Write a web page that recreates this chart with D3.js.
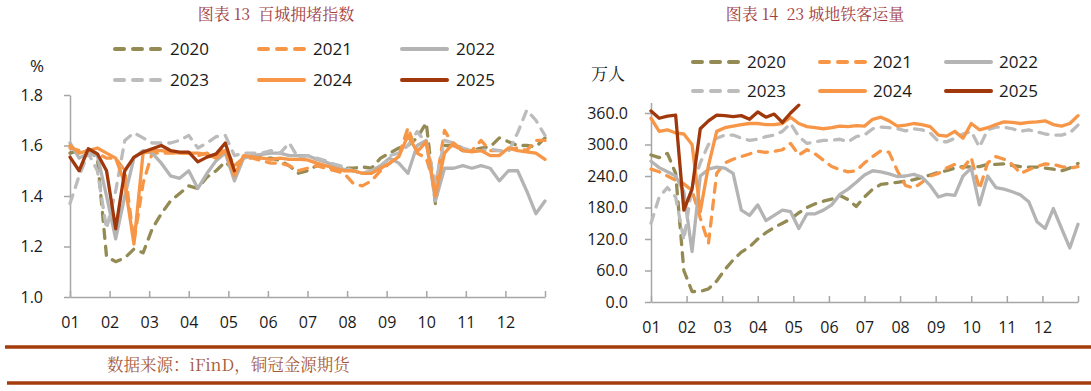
<!DOCTYPE html>
<html lang="zh">
<head>
<meta charset="utf-8">
<title>百城拥堵指数 / 23城地铁客运量</title>
<script src="https://cdn.jsdelivr.net/npm/d3@7"></script>
<style>
  body { margin: 0; background: #fff; }
  svg { display: block; }
  .title { font-family: "Noto Serif CJK SC", "Liberation Serif", "Noto Sans CJK SC", serif; font-size: 16px; fill: #a3403f; text-anchor: middle; white-space: pre; }
  .axis path, .axis line { stroke: #a6a6a6; stroke-width: 1.5; }
  .axis text { font-family: "Open Sans", sans-serif; font-size: 16px; fill: #1a1a1a; }
  .legend text { font-family: "Open Sans", sans-serif; font-size: 17px; fill: #1a1a1a; }
  .unit { font-family: "Open Sans", "Noto Serif CJK SC", "Noto Sans CJK SC", sans-serif; font-size: 17px; fill: #1a1a1a; text-anchor: middle; }
  .series { fill: none; stroke-width: 3.3; stroke-linejoin: round; stroke-linecap: round; }
  .source { font-family: "Noto Serif CJK SC", "Liberation Serif", "Noto Sans CJK SC", serif; font-size: 16.5px; fill: #a65a3a; }
</style>
</head>
<body>
<div id="chart"></div>
<script>

var months = ["01", "02", "03", "04", "05", "06", "07", "08", "09", "10", "11", "12"],
    years = ["2020", "2021", "2022", "2023", "2024", "2025"],
    colors = ["#948a54", "#f79646", "#b4b4b4", "#bcbcbc", "#f79646", "#a0380c"],
    dashed = [true, true, false, true, false, false];

// weekly values, week 0 = start of Jan
var cong2020 = [1.57,1.58,1.58,1.55,1.16,1.14,1.155,1.19,1.175,1.27,
                1.33,1.38,1.41,1.44,1.43,1.475,1.50,1.535,1.50,1.55,
                1.56,1.55,1.55,1.54,1.52,1.49,
                1.50,1.52,1.515,1.51,1.51,1.51,1.515,1.51,1.55,1.57,
                1.59,1.60,1.63,1.69,1.37,1.60,1.60,1.58,1.58,1.59,
                1.595,1.63,1.615,1.60,1.60,1.595,1.63];
var cong2021 = [1.59,1.58,1.58,1.57,1.55,1.55,1.50,1.22,1.45,1.57,
                1.57,1.57,1.57,1.57,1.56,1.57,1.56,1.59,1.52,1.55,
                1.55,1.54,1.53,1.53,1.52,1.50,
                1.51,1.52,1.51,1.50,1.49,1.45,1.44,1.46,1.50,1.53,
                1.56,1.67,1.57,1.55,1.43,1.66,1.60,1.58,1.58,1.62,
                1.58,1.58,1.585,1.59,1.58,1.62,1.62];
var cong2022 = [1.61,1.55,1.57,1.56,1.40,1.23,1.40,1.55,1.58,1.57,
                1.53,1.48,1.47,1.50,1.43,1.49,1.54,1.57,1.46,1.55,
                1.56,1.565,1.57,1.57,1.56,1.56,
                1.56,1.545,1.535,1.52,1.505,1.50,1.49,1.50,1.52,1.55,
                1.53,1.49,1.60,1.62,1.38,1.51,1.51,1.52,1.51,1.52,
                1.51,1.46,1.50,1.50,1.42,1.33,1.38];
var cong2023 = [1.37,1.48,1.57,1.50,1.27,1.42,1.62,1.65,1.63,1.61,
                1.61,1.61,1.62,1.64,1.59,1.61,1.635,1.64,1.56,1.57,
                1.57,1.57,1.58,1.57,1.61,1.55,
                1.56,1.55,1.54,1.525,1.515,1.50,1.49,1.50,1.505,1.56,
                1.57,1.60,1.655,1.61,1.45,1.62,1.61,1.59,1.58,1.58,
                1.585,1.58,1.575,1.65,1.74,1.70,1.64];
var cong2024 = [1.60,1.57,1.58,1.59,1.57,1.55,1.45,1.21,1.57,1.58,
                1.58,1.575,1.57,1.57,1.57,1.565,1.55,1.58,1.48,1.56,
                1.555,1.55,1.545,1.55,1.545,1.545,
                1.543,1.53,1.52,1.51,1.50,1.50,1.49,1.49,1.51,1.53,
                1.556,1.64,1.575,1.615,1.40,1.57,1.61,1.58,1.575,1.58,
                1.56,1.56,1.59,1.58,1.575,1.57,1.545];
var cong2025 = [1.554,1.50,1.587,1.567,1.50,1.27,1.50,1.554,1.574,1.587,
                1.60,1.58,1.574,1.574,1.535,1.554,1.567,1.61,1.50];

var metro2020 = [280,275,283,245,60,20,20,25,40,62,
                 80,95,105,120,132,142,150,158,170,180,
                 187,192,196,203,195,182,
                 200,215,224,226,228,230,233,237,242,247,
                 250,255,258,257,258,262,262,263,260,258,
                 257,257,255,253,250,255,264];
var metro2021 = [253,248,240,232,225,212,160,112,245,265,
                 272,277,282,287,285,287,290,302,280,290,
                 282,270,258,252,248,250,
                 265,277,288,285,250,222,217,228,240,245,
                 255,262,255,275,215,265,277,272,262,245,
                 252,258,263,262,258,255,258];
var metro2022 = [268,256,248,240,210,96,240,253,257,255,
                 245,175,165,185,155,165,175,172,140,168,
                 168,175,185,205,215,228,
                 242,250,248,244,239,240,243,238,222,200,
                 205,203,240,255,185,240,218,215,210,204,
                 191,153,140,178,140,103,148];
var metro2023 = [150,200,218,200,118,220,265,300,312,318,
                 318,312,308,310,315,318,325,340,315,302,
                 305,308,308,310,305,315,
                 318,330,333,332,330,326,330,328,322,306,
                 305,312,320,325,295,328,333,333,330,325,
                 328,324,320,318,318,322,337];
var metro2024 = [350,325,328,322,320,300,172,260,325,332,
                 335,338,340,340,338,338,340,352,340,334,
                 332,330,332,335,334,336,
                 335,348,352,345,335,337,340,338,334,318,
                 316,325,312,340,328,332,338,343,342,340,
                 342,343,345,338,335,340,355];
var metro2025 = [364,350,354,356,175,215,330,345,356,355,
                 353,355,348,362,352,358,342,360,375];

var congestion = [cong2020, cong2021, cong2022, cong2023, cong2024, cong2025],
    metro = [metro2020, metro2021, metro2022, metro2023, metro2024, metro2025];

var svg = d3.select("#chart").append("svg")
            .attr("width", 1091)
            .attr("height", 391);

function drawChart(cfg) {
    var x = d3.scaleLinear().domain([0, 52]).range(cfg.xRange);
    var y = d3.scaleLinear().domain(cfg.yDomain).range(cfg.yRange);

    var xAxis = d3.axisBottom(x)
                  .tickValues(d3.range(13).map(function(m) { return m * 52 / 12; }))
                  .tickFormat(function(d, i) { return i < 12 ? months[i] : ""; })
                  .tickSizeInner(-6)
                  .tickSizeOuter(0)
                  .tickPadding(20);

    var yAxis = d3.axisLeft(y)
                  .tickValues(cfg.yTicks)
                  .tickFormat(d3.format(".1f"))
                  .tickSizeInner(6)
                  .tickSizeOuter(0)
                  .tickPadding(cfg.yPad);

    svg.append("g")
       .attr("class", "axis")
       .attr("transform", "translate(0," + cfg.yRange[0] + ")")
       .call(xAxis);

    svg.append("g")
       .attr("class", "axis")
       .attr("transform", "translate(" + cfg.xRange[0] + ",0)")
       .call(yAxis);

    var line = d3.line()
                 .x(function(d, i) { return x(i); })
                 .y(function(d) { return y(d); });

    cfg.data.forEach(function(vals, k) {
        svg.append("path")
           .datum(vals)
           .attr("class", "series")
           .attr("d", line)
           .attr("stroke", colors[k])
           .attr("stroke-dasharray", dashed[k] ? "9,8" : null);
    });

    svg.append("text")
       .attr("class", "title")
       .attr("x", cfg.titleX)
       .attr("y", 20)
       .text(cfg.title);

    svg.append("text")
       .attr("class", "unit")
       .attr("x", cfg.unitPos[0])
       .attr("y", cfg.unitPos[1])
       .text(cfg.unit);

    // legend: 3 columns x 2 rows
    var lg = svg.append("g").attr("class", "legend");
    years.forEach(function(yr, k) {
        var col = k % 3, row = Math.floor(k / 3);
        var ly = cfg.legendRows[row], lx = cfg.legendCols[col];
        lg.append("line")
          .attr("x1", lx + 2).attr("x2", lx + 47)
          .attr("y1", ly).attr("y2", ly)
          .attr("stroke", colors[k])
          .attr("stroke-width", 4)
          .attr("stroke-linecap", "round")
          .attr("stroke-dasharray", dashed[k] ? "9,9" : null);
        lg.append("text")
          .attr("x", cfg.legendText[col])
          .attr("y", ly)
          .attr("dy", "0.36em")
          .text(yr);
    });
}

drawChart({
    data: congestion,
    xRange: [70, 545],
    yRange: [297, 95],
    yDomain: [1.0, 1.8],
    yTicks: [1.0, 1.2, 1.4, 1.6, 1.8],
    yPad: 21,
    title: "图表 13  百城拥堵指数",
    titleX: 276,
    unit: "%",
    unitPos: [37, 72],
    legendRows: [49, 80],
    legendCols: [113, 257, 400],
    legendText: [170, 313, 456]
});

drawChart({
    data: metro,
    xRange: [651, 1078],
    yRange: [302, 102.5],
    yDomain: [0, 380],
    yTicks: [0, 60, 120, 180, 240, 300, 360],
    yPad: 17,
    title: "图表 14  23 城地铁客运量",
    titleX: 815,
    unit: "万人",
    unitPos: [608, 80],
    legendRows: [62, 91],
    legendCols: [691, 818, 944],
    legendText: [747, 873, 999]
});

// footer rules and source
svg.append("line")
   .attr("x1", 5).attr("x2", 1091)
   .attr("y1", 347).attr("y2", 347)
   .attr("stroke", "#a33b0a").attr("stroke-width", 3.5);

svg.append("line")
   .attr("x1", 7).attr("x2", 1091)
   .attr("y1", 383).attr("y2", 383)
   .attr("stroke", "#a33b0a").attr("stroke-width", 3.5);

svg.append("text")
   .attr("class", "source")
   .attr("x", 107)
   .attr("y", 371)
   .text("数据来源：iFinD，铜冠金源期货");

</script>
</body>
</html>
